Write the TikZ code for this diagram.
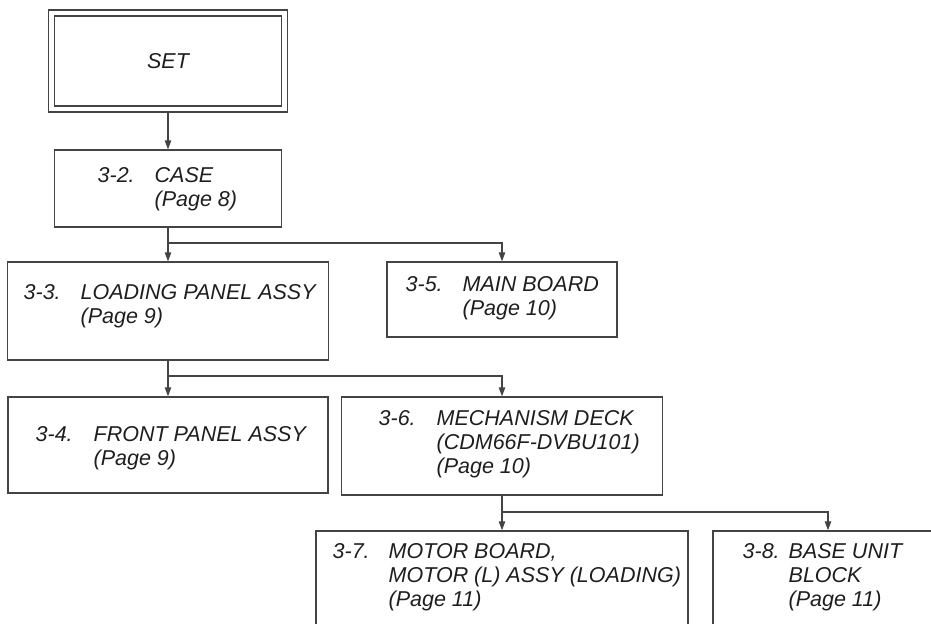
\documentclass[tikz,border=0pt]{standalone}
\usepackage{fontspec}
\setmainfont{Liberation Sans}
\usetikzlibrary{arrows.meta}

\definecolor{linegray}{HTML}{444444}
\definecolor{textgray}{HTML}{1E1E1E}

\begin{document}
\begin{tikzpicture}[x=0.5pt,y=-0.5pt,line width=0.65pt,
    >={Triangle[length=4.5pt,width=3.2pt]},
    txt/.style={anchor=base west,inner sep=0pt,text=textgray,
      font=\fontsize{10.75}{12}\selectfont\itshape}]

      \useasboundingbox (0,0) rectangle (931,624);
      \clip (0,0) rectangle (931,624);

      \begin{scope}[every node/.style={draw=linegray,rectangle,inner sep=0pt}]
        \node[minimum width=116.5pt,minimum height=48pt,
          double,double distance=2.35pt,outer sep=1.6pt] (set) at (168,61) {};
        \node[minimum width=113.5pt,minimum height=38.5pt] (case)    at (168,188.5) {};
        \node[minimum width=160.5pt,minimum height=49pt]   (loading) at (168,311)   {};
        \node[minimum width=115pt,  minimum height=37.5pt] (main)    at (502,299.5) {};
        \node[minimum width=160pt,  minimum height=48pt]   (front)   at (168,445)   {};
        \node[minimum width=160.5pt,minimum height=49pt]   (mech)    at (502,446)   {};
        \node[minimum width=186pt,  minimum height=60pt]   (motor)   at (502,591)   {};
        \node[minimum width=115pt,  minimum height=60pt]   (base)    at (828,591)   {};
      \end{scope}

      \begin{scope}[every node/.style={txt}]
        \node[anchor=center] (settxt) at (set) {SET};

        \node (casenum)    at (97,183)  {3-2.};
        \node (casetxt)    at (154,183) {\begin{tabular}[t]{@{}l@{}}CASE\\(Page 8)\end{tabular}};

        \node (loadingnum) at (23,300)  {3-3.};
        \node (loadingtxt) at (80,300)  {\begin{tabular}[t]{@{}l@{}}LOADING PANEL ASSY\\(Page 9)\end{tabular}};

        \node (mainnum)    at (405,292) {3-5.};
        \node (maintxt)    at (462,292) {\begin{tabular}[t]{@{}l@{}}MAIN BOARD\\(Page 10)\end{tabular}};

        \node (frontnum)   at (35,442)  {3-4.};
        \node (fronttxt)   at (93,442)  {\begin{tabular}[t]{@{}l@{}}FRONT PANEL ASSY\\(Page 9)\end{tabular}};

        \node (mechnum)    at (378,426) {3-6.};
        \node (mechtxt)    at (436,426) {\begin{tabular}[t]{@{}l@{}}MECHANISM DECK\\(CDM66F-DVBU101)\\(Page 10)\end{tabular}};

        \node (motornum)   at (332,559) {3-7.};
        \node (motortxt)   at (388,559) {\begin{tabular}[t]{@{}l@{}}MOTOR BOARD,\\MOTOR (L) ASSY (LOADING)\\(Page 11)\end{tabular}};

        \node (basenum)    at (742,559) {3-8.};
        \node (basetxt)    at (788,559) {\begin{tabular}[t]{@{}l@{}}BASE UNIT\\BLOCK\\(Page 11)\end{tabular}};
      \end{scope}

      % tree connectors
      \coordinate (j1) at (168,243);
      \coordinate (j2) at (168,376);
      \coordinate (j3) at (502,512);

      \begin{scope}[draw=linegray]
        \draw[->] (set) -- (case);
        \draw[->] (case) -- (loading);
        \draw[->] (j1) -| (main);
        \draw[->] (loading) -- (front);
        \draw[->] (j2) -| (mech);
        \draw[->] (mech) -- (motor);
        \draw[->] (j3) -| (base);
      \end{scope}

    \end{tikzpicture}
\end{document}
